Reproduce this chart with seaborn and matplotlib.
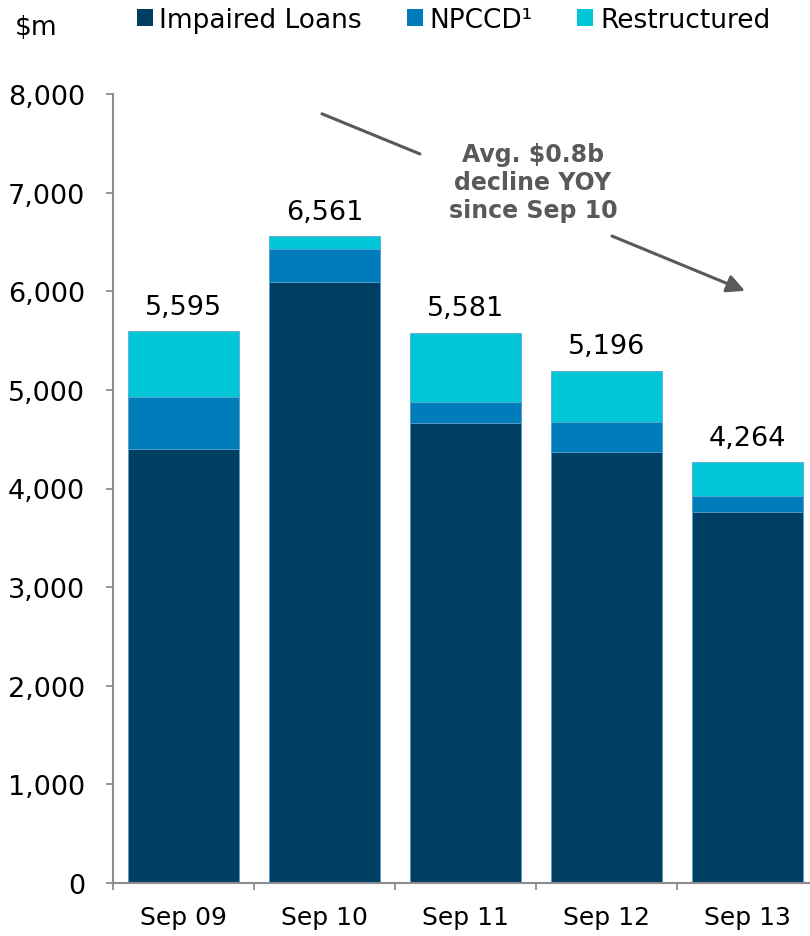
"""
Stacked bars: impaired loans, NPCCD and restructured exposures, Sep 09 - Sep 13.
"""

import matplotlib
matplotlib.use("Agg")
import matplotlib.pyplot as plt
import numpy as np
import pandas as pd
import seaborn as sns
from matplotlib.patches import Patch

PERIODS = ["Sep 09", "Sep 10", "Sep 11", "Sep 12", "Sep 13"]
IMPAIRED = [4400, 6091, 4664, 4366, 3759]
NPCCD = [531, 341, 215, 311, 165]
RESTRUCTURED = [664, 129, 702, 519, 340]
Y_TICKS = [0, 1000, 2000, 3000, 4000, 5000, 6000, 7000, 8000]

SERIES_NAMES = ["Impaired Loans", "NPCCD¹", "Restructured"]
COLORS = ["#003f63", "#007cba", "#00c6d7"]
GREY = "#8c8c8c"
TEXT_GREY = "#595959"

sns.set_style("white")
plt.rcParams["font.family"] = ["DejaVu Sans"]
plt.rcParams["text.color"] = "black"
plt.rcParams["xtick.color"] = "black"
plt.rcParams["ytick.color"] = "black"

df = pd.DataFrame(
    {"period": PERIODS, "impaired": IMPAIRED, "npccd": NPCCD, "restructured": RESTRUCTURED}
)
df["lvl1"] = df["impaired"]
df["lvl2"] = df["impaired"] + df["npccd"]
df["total"] = df["lvl2"] + df["restructured"]

fig = plt.figure(figsize=(8.1, 9.37), dpi=100)
ax = fig.add_axes([113 / 810, 53 / 937, 705 / 810, 789 / 937])

# overlay cumulative heights, tallest first
for col, colr in zip(["total", "lvl2", "lvl1"], COLORS[::-1]):
    sns.barplot(
        data=df, x="period", y=col, order=PERIODS, color=colr, saturation=1,
        width=0.79, edgecolor="#5fa8d0", linewidth=0.6, ax=ax,
    )

top = ax.containers[0]
ax.bar_label(top, labels=[f"{v:,}" for v in df["total"]], padding=8, fontsize=19.5, color="black")

ax.set_xlim(-0.5, 4.5)
ax.set_ylim(0, 8000)
ax.set_yticks(Y_TICKS)
ax.set_yticklabels([f"{v:,}" for v in Y_TICKS], fontsize=19.5)
ax.set_xticks(range(len(PERIODS)))
ax.set_xticklabels(PERIODS, fontsize=18)
ax.set_xticks(np.arange(-0.5, len(PERIODS)), minor=True)
ax.tick_params(axis="x", which="major", bottom=True, length=0, pad=16)
ax.tick_params(axis="x", which="minor", bottom=True, length=5, width=1.3, color=GREY, direction="out")
ax.tick_params(axis="y", left=True, length=5, width=1.3, color=GREY, direction="out", pad=15)
ax.set_xlabel("")
ax.set_ylabel("")
for side in ["top", "right"]:
    ax.spines[side].set_visible(False)
for side in ["left", "bottom"]:
    ax.spines[side].set_color(GREY)
    ax.spines[side].set_linewidth(1.5)

# trend arrow, broken by the note
line_kw = dict(color=TEXT_GREY, lw=2.2)
ax.annotate("", xy=(1.677, 7392), xytext=(0.982, 7799),
            arrowprops=dict(arrowstyle="-", shrinkA=0, shrinkB=0, **line_kw))
ax.annotate("", xy=(3.982, 6004), xytext=(3.039, 6560),
            arrowprops=dict(arrowstyle="-|>,head_length=0.6,head_width=0.3",
                            mutation_scale=18, shrinkA=0, shrinkB=0, **line_kw))
ax.text(2.479, 7108, "Avg. \\$0.8b\ndecline YOY\nsince Sep 10", ha="center", va="center",
        fontsize=17, fontweight="bold", color=TEXT_GREY, linespacing=1.2)

fig.text(15 / 810, 1 - 28 / 937, "\\$m", fontsize=19, va="center", ha="left")

handles = [Patch(facecolor=c, edgecolor="none") for c in COLORS]
fig.legend(
    handles, SERIES_NAMES, loc="center left", bbox_to_anchor=(137 / 810, 1 - 21 / 937),
    ncol=3, frameon=False, fontsize=19, handlelength=0.6, handleheight=0.6,
    handletextpad=0.25, columnspacing=1.7, borderpad=0, borderaxespad=0,
)

fig.savefig("out.png", dpi=100)
